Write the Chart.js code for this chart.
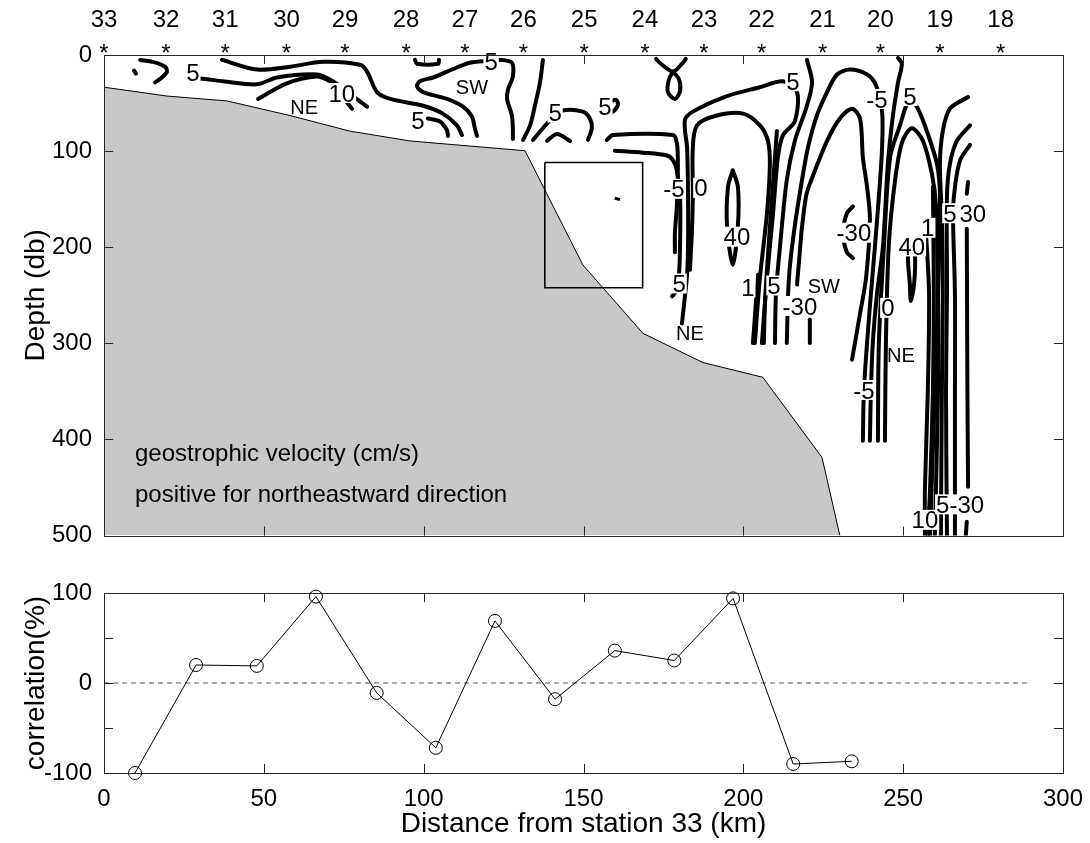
<!DOCTYPE html>
<html>
<head>
<meta charset="utf-8">
<script src="https://cdn.jsdelivr.net/npm/chart.js@4.4.1/dist/chart.umd.min.js"></script>
<style>
  body { margin: 0; background: #fff; }
  #wrap { position: relative; width: 1090px; height: 843px; }
  #topBox { position: absolute; left: 0; top: 0; width: 1090px; height: 562px; }
  #botBox { position: absolute; left: 0; top: 562px; width: 1090px; height: 281px; }
</style>
</head>
<body>
<div id="wrap">
  <div id="topBox"><canvas id="sectionChart"></canvas></div>
  <div id="botBox"><canvas id="corrChart"></canvas></div>
</div>
<script>
// station numbers along the top and their distance from station 33 (km)
const stationNums = [33, 32, 31, 30, 29, 28, 27, 26, 25, 24, 23, 22, 21, 20, 19, 18];
const stationKm = [0, 19.4, 37.9, 57.1, 75.4, 94.5, 112.9, 131.2, 150.2, 169.2, 187.7, 205.7, 224.8, 242.9, 261.5, 280.5];

// bottom topography (km, db)
const bathyKm = [0, 19.7, 38.5, 58.2, 76.9, 95.7, 131.7, 149.8, 168.6, 187.4, 206.1, 224.6, 230.2];
const bathyDb = [33.5, 42.7, 47.8, 63, 79.2, 89.4, 99.6, 218.4, 289.6, 320, 335.3, 418.6, 500];

// rectangle marked on the section
const boxKm = [137.9, 168.5, 168.5, 137.9, 137.9];
const boxDb = [111.8, 111.8, 242.1, 242.1, 111.8];
const dashKm = [159.8, 161.4];
const dashDb = [149, 150.5];

// contour lines of geostrophic velocity, each a list of [km, db]
const contourLines = [
  [[9.4, 16.3], [10.0, 19.3]],
  [[11.3, 5.1], [15.3, 7.1], [19.1, 12.2], [19.7, 17.3], [18.1, 23.4], [16.0, 28.4]],
  [[27.2, 26.4], [30.0, 24.4], [37.2, 27.4], [47.9, 30.5], [54.1, 23.4], [66.6, 20.3], [71.6, 27.4], [77.9, 42.7], [82.3, 53.8]],
  [[36.9, 5.1], [47.9, 15.2], [58.2, 12.2], [68.5, 7.1], [80.1, 10.2], [82.3, 17.3], [85.4, 38.6], [89.5, 45.7], [99.8, 52.8], [106.0, 61.0], [110.4, 73.2], [112.0, 83.3]],
  [[48.2, 45.7], [57.2, 29.5], [66.6, 22.4], [70.7, 27.4], [73.8, 35.6], [75.7, 47.8], [77.6, 55.9]],
  [[97.3, 5.1], [97.9, 9.1], [104.5, 9.1], [104.8, 5.1]],
  [[127.9, 87.4], [127.9, 76.2], [127.6, 63.0], [126.1, 45.7], [126.4, 35.6], [127.9, 22.4], [127.6, 8.1], [123.9, 5.1], [121.1, 6.1], [114.5, 8.1], [107.3, 17.3], [102.9, 23.4], [98.8, 27.4], [97.9, 32.5], [99.8, 38.6], [107.3, 45.7], [112.3, 53.8], [115.1, 64.0], [116.0, 76.2], [116.7, 84.3]],
  [[101.3, 66.0], [105.1, 69.1], [107.3, 78.2], [107.6, 84.3]],
  [[137.3, 5.1], [136.4, 28.4], [134.8, 52.8], [133.3, 73.2], [131.1, 88.4]],
  [[134.2, 88.4], [137.3, 76.2], [139.5, 68.1], [143.3, 57.9], [149.8, 58.9], [152.0, 66.0], [152.6, 76.2], [151.4, 88.4]],
  [[138.6, 89.4], [141.7, 82.3], [145.8, 89.4]],
  [[158.3, 48.8], [160.2, 46.7], [160.8, 51.8], [159.2, 58.9], [158.0, 55.9]],
  [[157.3, 88.4], [159.2, 83.3], [178.0, 83.3], [179.2, 91.4], [179.5, 106.7], [179.5, 124.0], [179.2, 157.5], [178.6, 184.9], [178.6, 205.2]],
  [[159.8, 99.6], [168.6, 101.6], [176.1, 104.6], [178.0, 109.7], [179.2, 119.9], [180.2, 147.3], [180.2, 198.1], [179.9, 226.6], [179.2, 244.9], [177.7, 251.0]],
  [[180.8, 279.4], [181.7, 252.0], [182.4, 228.6], [182.7, 198.1], [182.7, 147.3], [182.4, 96.5], [181.7, 68.1], [184.2, 58.9], [194.9, 42.7], [205.2, 33.5], [212.4, 27.4], [216.8, 38.6], [216.1, 69.1], [212.4, 83.3], [210.8, 106.7], [209.3, 164.6], [207.4, 231.6], [205.8, 299.7]],
  [[183.3, 223.5], [183.9, 184.9], [184.2, 147.3], [184.2, 96.5], [185.5, 73.2], [191.7, 63.0], [199.9, 61.0], [205.2, 73.2], [207.7, 89.4], [208.3, 113.8], [207.4, 164.6], [205.2, 231.6], [203.6, 299.7]],
  [[196.7, 119.9], [195.2, 137.2], [194.9, 177.8], [196.7, 218.4], [198.3, 177.8], [198.3, 137.2], [196.7, 119.9]],
  [[172.7, 4.1], [174.2, 9.1], [178.0, 17.3], [181.1, 8.1], [182.0, 4.1]],
  [[178.0, 17.3], [176.7, 25.4], [176.4, 38.6], [178.6, 45.7], [180.2, 37.6], [179.9, 25.4], [178.0, 17.3]],
  [[210.5, 79.2], [209.0, 147.3], [207.7, 208.3], [206.8, 256.0], [206.4, 299.7]],
  [[204.6, 228.6], [203.0, 299.7]],
  [[219.9, 5.1], [221.5, 28.4], [219.9, 52.8], [216.1, 89.4], [213.6, 130.0], [211.5, 198.1], [210.2, 248.9], [209.9, 299.7]],
  [[213.6, 299.7], [214.0, 248.9], [214.6, 218.4], [216.1, 177.8], [218.0, 137.2], [220.2, 96.5], [223.0, 63.0], [226.2, 38.6], [229.3, 20.3], [233.3, 15.2], [238.7, 20.3], [241.5, 31.5], [243.4, 58.9], [243.4, 96.5], [242.4, 147.3], [241.2, 198.1], [239.9, 248.9], [238.7, 299.7], [237.7, 350.5], [237.4, 401.3]],
  [[216.8, 238.8], [217.4, 215.4], [218.3, 180.8], [219.6, 147.3], [220.8, 134.1], [226.2, 89.4], [230.2, 66.0], [234.0, 55.9], [236.5, 66.0], [237.4, 106.7], [238.7, 137.2], [239.6, 170.7], [238.4, 231.6], [236.5, 269.2], [234.0, 317.0]],
  [[220.8, 275.3], [220.8, 299.7]],
  [[234.3, 157.5], [232.4, 164.6], [231.2, 184.9], [232.4, 205.2], [234.3, 211.3]],
  [[248.4, 3.0], [249.6, 9.1], [248.4, 28.4], [246.8, 63.0], [245.2, 113.8], [243.7, 198.1], [241.8, 248.9], [240.5, 299.7], [239.9, 350.5], [239.6, 401.3]],
  [[242.1, 401.3], [242.4, 299.7], [244.0, 198.1], [245.9, 106.7], [249.0, 73.2], [251.2, 50.8], [252.7, 47.8], [254.6, 55.9], [257.4, 79.2], [260.6, 113.8], [261.5, 147.3], [260.9, 248.9], [259.9, 350.5], [258.4, 500]],
  [[244.3, 401.3], [244.6, 299.7], [245.5, 198.1], [247.4, 132.1], [249.6, 91.4], [252.7, 76.2], [256.2, 89.4], [259.0, 124.0], [260.2, 154.4], [260.9, 248.9], [260.9, 350.5], [259.9, 500]],
  [[252.7, 195.1], [251.5, 208.3], [252.1, 238.8], [252.4, 256.0], [253.4, 238.8], [253.7, 208.3], [252.7, 195.1]],
  [[257.1, 182.9], [258.1, 248.9], [257.7, 350.5], [256.8, 452.3], [256.8, 500]],
  [[259.3, 137.2], [259.6, 248.9], [259.3, 350.5], [258.4, 452.3], [257.7, 500]],
  [[270.3, 43.7], [264.6, 55.9], [262.4, 79.2], [261.5, 113.8], [262.1, 167.6], [262.4, 248.9], [262.1, 350.5], [261.8, 500]],
  [[270.9, 73.2], [266.8, 89.4], [264.6, 113.8], [263.7, 147.3], [263.7, 248.9], [263.4, 350.5], [263.7, 500]],
  [[270.9, 93.5], [267.8, 109.7], [266.2, 137.2], [265.6, 164.6], [266.2, 248.9], [266.2, 350.5], [266.2, 452.3], [266.2, 500]],
  [[270.3, 132.1], [269.9, 144.3]],
  [[269.9, 180.8], [270.1, 350.5], [270.3, 449.1]],
  [[269.9, 485.6], [269.6, 500]]
];

// contour labels
const labelText = ['5', '10', '5', '5', '5', '5', '-5', '0', '5', '40', '5', '1', '5', '-30', '-30', '-5', '5', '40', '1', '5', '30', '0', '-5', '10', '5-30'];
const labelKm = [27.8, 74.4, 98.2, 121.1, 141.1, 156.7, 178.3, 186.7, 179.9, 198.0, 215.5, 201.4, 209.6, 217.7, 234.6, 241.8, 252.1, 252.7, 257.7, 264.6, 271.8, 245.2, 237.7, 256.8, 267.8];
const labelDb = [18.3, 39.6, 68.1, 7.1, 59.9, 53.8, 139.2, 138.2, 237.7, 189.0, 27.4, 241.8, 239.8, 261.1, 184.9, 45.7, 42.7, 199.1, 179.8, 164.6, 164.6, 263.1, 348.5, 483.6, 467.5];

// flow direction marks
const regionText = ['NE', 'SW', 'NE', 'SW', 'NE'];
const regionKm = [62.6, 115.1, 183.3, 225.2, 249.3];
const regionDb = [53.8, 33.5, 288.5, 239.8, 311.9];

const noteText = ['geostrophic velocity (cm/s)', 'positive for northeastward direction'];
const noteKm = [9.7, 9.7];
const noteDb = [413.5, 456.2];

// correlation between stations
const corrKm = [9.7, 28.8, 47.8, 66.3, 85.3, 103.8, 122.3, 141.1, 159.8, 178.4, 196.8, 215.6, 233.9];
const corrVal = [-100, 20, 19, 96, -11, -72, 69, -18, 36, 25, 94, -90, -87];
const zeroKm = [0, 290];
const zeroVal = [0, 0];

const distTicks = [0, 50, 100, 150, 200, 250, 300];
const depthTicks = [0, 100, 200, 300, 400, 500];
const corrTicks = [-100, -50, 0, 50, 100];

const FONT = '"Liberation Sans", Arial, Helvetica, sans-serif';
Chart.defaults.font.family = FONT;
Chart.defaults.color = '#000';

// box round the plot with inward ticks, like the original figure
function drawFrame(chart, xTicks, yTicks) {
  const {ctx, chartArea: a, scales} = chart;
  ctx.save();
  ctx.strokeStyle = '#262626';
  ctx.lineWidth = 1;
  ctx.strokeRect(Math.round(a.left) + 0.5, Math.round(a.top) + 0.5, Math.round(a.right - a.left), Math.round(a.bottom - a.top));
  ctx.beginPath();
  xTicks.forEach(v => {
    const px = Math.round(scales.x.getPixelForValue(v)) + 0.5;
    ctx.moveTo(px, a.top); ctx.lineTo(px, a.top + 9);
    ctx.moveTo(px, a.bottom); ctx.lineTo(px, a.bottom - 9);
  });
  yTicks.forEach(v => {
    const py = Math.round(scales.y.getPixelForValue(v)) + 0.5;
    ctx.moveTo(a.left, py); ctx.lineTo(a.left + 9, py);
    ctx.moveTo(a.right, py); ctx.lineTo(a.right - 9, py);
  });
  ctx.stroke();
  ctx.restore();
}

const sectionDecor = {
  id: 'sectionDecor',
  afterDatasetsDraw(chart) {
    const {ctx, chartArea: a, scales: {x, y}} = chart;
    ctx.save();
    ctx.textAlign = 'center';
    ctx.textBaseline = 'alphabetic';

    // contour labels, with the line broken under them
    ctx.font = '24px ' + FONT;
    labelText.forEach((t, i) => {
      const px = x.getPixelForValue(labelKm[i]);
      const py = y.getPixelForValue(labelDb[i]);
      const w = ctx.measureText(t).width;
      ctx.fillStyle = '#fff';
      ctx.fillRect(px - w / 2 - 1, py - 10, w + 2, 20);
      ctx.fillStyle = '#000';
      ctx.fillText(t, px, py + 8.6);
    });

    ctx.font = '20px ' + FONT;
    regionText.forEach((t, i) => {
      ctx.fillText(t, x.getPixelForValue(regionKm[i]), y.getPixelForValue(regionDb[i]) + 7.2);
    });

    ctx.textAlign = 'left';
    ctx.font = '24px ' + FONT;
    noteText.forEach((t, i) => {
      ctx.fillText(t, x.getPixelForValue(noteKm[i]), y.getPixelForValue(noteDb[i]) + 8.6);
    });

    // station numbers and asterisks above the section
    ctx.textAlign = 'center';
    stationNums.forEach((n, i) => {
      const px = x.getPixelForValue(stationKm[i]);
      ctx.fillText(String(n), px, a.top - 28);
      ctx.fillText('*', px, a.top + 6);
    });
    ctx.restore();

    drawFrame(chart, distTicks, depthTicks);
  }
};

const corrDecor = {
  id: 'corrDecor',
  afterDatasetsDraw(chart) {
    drawFrame(chart, distTicks, corrTicks);
  }
};

const toPoints = (xs, ys) => xs.map((v, i) => ({x: v, y: ys[i]}));

const sectionSets = [
  {
    data: toPoints(bathyKm, bathyDb),
    showLine: true,
    borderColor: '#000',
    borderWidth: 1,
    backgroundColor: '#c8c8c8',
    fill: 'start',
    pointRadius: 0,
    order: 10
  },
  {
    data: toPoints(boxKm, boxDb),
    showLine: true,
    borderColor: '#000',
    borderWidth: 1.6,
    pointRadius: 0,
    order: 1
  },
  {
    data: toPoints(dashKm, dashDb),
    showLine: true,
    borderColor: '#000',
    borderWidth: 3,
    pointRadius: 0,
    order: 1
  }
];

contourLines.forEach(line => {
  sectionSets.push({
    data: line.map(p => ({x: p[0], y: p[1]})),
    showLine: true,
    borderColor: '#000',
    borderWidth: 4,
    borderJoinStyle: 'round',
    borderCapStyle: 'round',
    tension: 0.3,
    pointRadius: 0,
    order: 0
  });
});

new Chart(document.getElementById('sectionChart'), {
  type: 'scatter',
  data: { datasets: sectionSets },
  options: {
    responsive: true,
    maintainAspectRatio: false,
    animation: false,
    devicePixelRatio: 1,
    layout: { padding: { left: 0, right: 27, top: 55, bottom: 15 } },
    plugins: { legend: { display: false }, tooltip: { enabled: false } },
    scales: {
      x: { type: 'linear', min: 0, max: 300, display: false },
      y: {
        type: 'linear',
        min: 0,
        max: 500,
        reverse: true,
        grid: { display: false, drawTicks: false },
        border: { display: false },
        ticks: { stepSize: 100, color: '#000', font: { size: 24 }, padding: 12 },
        title: { display: true, text: 'Depth (db)', color: '#000', font: { size: 28 }, padding: { top: 19, bottom: 0 } },
        afterFit: s => { s.width = 104; }
      }
    }
  },
  plugins: [sectionDecor]
});

new Chart(document.getElementById('corrChart'), {
  type: 'scatter',
  data: {
    datasets: [
      {
        data: toPoints(corrKm, corrVal),
        showLine: true,
        borderColor: '#000',
        borderWidth: 1,
        pointRadius: 6.5,
        pointStyle: 'circle',
        pointBackgroundColor: 'rgba(0,0,0,0)',
        pointBorderColor: '#000',
        pointBorderWidth: 1,
        clip: false,
        order: 0
      },
      {
        data: toPoints(zeroKm, zeroVal),
        showLine: true,
        borderColor: '#555',
        borderWidth: 1,
        borderDash: [5, 4],
        pointRadius: 0,
        order: 1
      }
    ]
  },
  options: {
    responsive: true,
    maintainAspectRatio: false,
    animation: false,
    devicePixelRatio: 1,
    layout: { padding: { left: 0, right: 27, top: 31, bottom: 0 } },
    plugins: { legend: { display: false }, tooltip: { enabled: false } },
    scales: {
      x: {
        type: 'linear',
        min: 0,
        max: 300,
        grid: { display: false, drawTicks: false },
        border: { display: false },
        ticks: { stepSize: 50, color: '#000', font: { size: 24 }, padding: 12 },
        title: { display: true, text: 'Distance from station 33 (km)', color: '#000', font: { size: 28 }, padding: { top: 0, bottom: 2 } },
        afterFit: s => {
          s.height = 70;
          s.paddingLeft = 0;
          s.paddingRight = 20;
        }
      },
      y: {
        type: 'linear',
        min: -100,
        max: 100,
        grid: { display: false, drawTicks: false },
        border: { display: false },
        ticks: {
          stepSize: 50,
          color: '#000',
          font: { size: 24 },
          padding: 12,
          callback: v => (v % 100 === 0 ? v : '')
        },
        title: { display: true, text: 'correlation(%)', color: '#000', font: { size: 28 }, padding: { top: 19, bottom: 0 } },
        afterFit: s => { s.width = 104; }
      }
    }
  },
  plugins: [corrDecor]
});
</script>
</body>
</html>
